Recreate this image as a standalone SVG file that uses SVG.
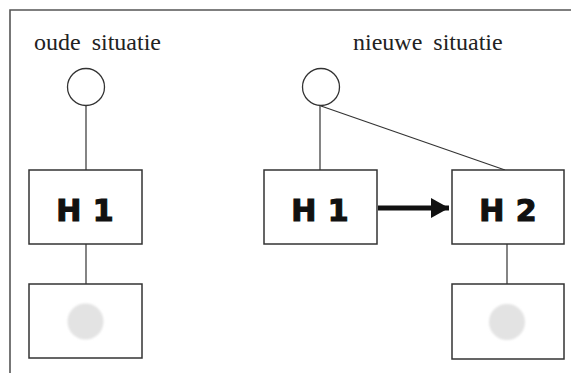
<svg xmlns="http://www.w3.org/2000/svg" width="571" height="373" viewBox="0 0 571 373">
  <defs>
    <style>
      .frame { fill: none; stroke: #555; stroke-width: 1.6; }
      .box { fill: #fff; stroke: #333; stroke-width: 1.5; }
      .ring { fill: #fff; stroke: #333; stroke-width: 1.3; }
      .dot { fill: #e3e3e3; }
      .wire { stroke: #333; stroke-width: 1.2; fill: none; }
      .title { font-family: "Liberation Serif", "Times New Roman", serif; font-size: 24px; fill: #222; word-spacing: 5px; }
      .label { font-family: "DejaVu Sans", "Liberation Sans", sans-serif; font-weight: bold; font-size: 30px; fill: #111; stroke: #111; stroke-width: 1.2; text-anchor: middle; word-spacing: 1px; }
    </style>
    <marker id="head" viewBox="0 0 18 20" refX="18" refY="10" markerWidth="18" markerHeight="20" markerUnits="userSpaceOnUse" orient="auto">
      <path d="M0,0 L18,10 L0,20 Z" fill="#111"/>
    </marker>
    <filter id="soft" x="-20%" y="-20%" width="140%" height="140%">
      <feGaussianBlur stdDeviation="0.8"/>
    </filter>
  </defs>

  <rect width="571" height="373" fill="#fff"/>
  <!-- outer frame, open to the right and bottom -->
  <path class="frame" d="M10,373 V10 H571"/>

  <text class="title" x="34" y="50">oude situatie</text>
  <text class="title" x="353" y="50">nieuwe situatie</text>

  <g id="connectors">
    <line class="wire" x1="86" y1="106" x2="86" y2="170"/>
    <line class="wire" x1="86" y1="244" x2="86" y2="284"/>
    <line class="wire" x1="320" y1="106" x2="320" y2="170"/>
    <line class="wire" x1="321" y1="106" x2="505" y2="170"/>
    <line class="wire" x1="507" y1="244" x2="507" y2="284"/>
    <line x1="378" y1="208" x2="449" y2="208" stroke="#111" stroke-width="5" marker-end="url(#head)"/>
  </g>

  <g id="old-top">
    <circle class="ring" cx="86" cy="87" r="18.5"/>
  </g>
  <g id="old-h1">
    <rect class="box" x="29" y="170" width="113" height="74"/>
    <text class="label" x="85" y="221">H 1</text>
  </g>
  <g id="old-bottom">
    <rect class="box" x="29" y="284" width="113" height="74"/>
    <circle class="dot" cx="85.5" cy="321.5" r="18" filter="url(#soft)"/>
  </g>

  <g id="new-top">
    <circle class="ring" cx="321" cy="87" r="18.5"/>
  </g>
  <g id="new-h1">
    <rect class="box" x="264" y="170" width="113" height="74"/>
    <text class="label" x="320" y="221">H 1</text>
  </g>
  <g id="new-h2">
    <rect class="box" x="452" y="170" width="112" height="74"/>
    <text class="label" x="508" y="221">H 2</text>
  </g>
  <g id="new-bottom">
    <rect class="box" x="452" y="284" width="112" height="75"/>
    <circle class="dot" cx="507" cy="322" r="18" filter="url(#soft)"/>
  </g>
</svg>
